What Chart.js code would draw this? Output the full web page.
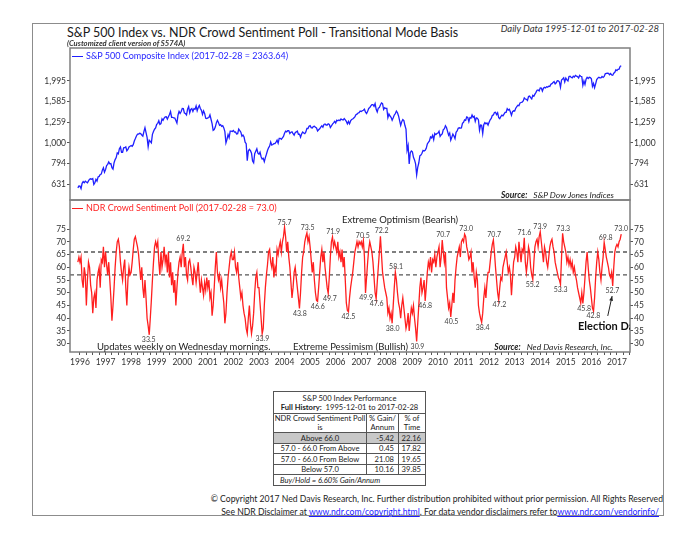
<!DOCTYPE html>
<html>
<head>
<meta charset="utf-8">
<script src="https://cdn.jsdelivr.net/npm/chart.js@4"></script>
<style>
  body { margin: 0; width: 696px; height: 538px; position: relative; background: #fff; overflow: hidden; font-family: Lato, sans-serif; color: #222; }
  .t { position: absolute; white-space: nowrap; z-index: 2; }
  canvas { position: absolute; left: 0; z-index: 1; }
  #frame { position: absolute; left: 32px; top: 23px; width: 630px; height: 491px; border: 1.5px solid #8c8c8c; }
  .key { display: inline-block; width: 11px; height: 1.4px; vertical-align: middle; margin-right: 3px; }
  #perf { position: absolute; left: 273px; top: 391px; width: 152px; table-layout: fixed; border-collapse: collapse; font-size: 7.6px; color: #222; z-index: 2; }
  #perf td { border: 1px solid #555; padding: 0; text-align: center; line-height: 8.6px; white-space: nowrap; overflow: hidden; }
  #perf td.num { text-align: right; padding-right: 4px; }
  #perf tr.band td { height: 9.6px; }
  #perf tr.hot td { background: #c8c8c8; }
  #perf td.ft { text-align: left; font-style: italic; padding-left: 6px; height: 9.4px; }
  .foot a { color: #1a1aff; }
</style>
</head>
<body>
<div id="frame"></div>

<div class="t" style="left:67px;top:25px;line-height:15px;font-size:12.5px;color:#1a1a1a">S&amp;P 500 Index vs. NDR Crowd Sentiment Poll - Transitional Mode Basis</div>
<div class="t" style="left:67px;top:38px;line-height:10px;font-size:7.7px;font-style:italic;font-weight:bold;color:#333">(Customized client version of S574A)</div>
<div class="t" style="right:37px;top:23px;line-height:12px;font-size:9.5px;font-style:italic;color:#333">Daily Data 1995-12-01 to 2017-02-28</div>

<div class="t" style="left:72px;top:50px;line-height:12px;font-size:9px;color:#1f1fff"><span class="key" style="background:#1f1fff"></span>S&amp;P 500 Composite Index (2017-02-28 = 2363.64)</div>
<div class="t" style="right:82px;top:189px;line-height:12px;font-size:8.5px;font-style:italic;color:#222"><b>Source:</b>&nbsp;&nbsp; S&amp;P Dow Jones Indices</div>

<div class="t" style="left:72px;top:202px;line-height:12px;font-size:9px;color:#ff1f1f"><span class="key" style="background:#ff1f1f"></span>NDR Crowd Sentiment Poll (2017-02-28 = 73.0)</div>
<div class="t" style="left:342px;top:214px;line-height:12px;font-size:9.5px">Extreme Optimism (Bearish)</div>
<div class="t" style="left:97px;top:341px;line-height:12px;font-size:9.5px">Updates weekly on Wednesday mornings.</div>
<div class="t" style="left:293px;top:341px;line-height:12px;font-size:9.5px">Extreme Pessimism (Bullish)</div>
<div class="t" style="right:83px;top:341px;line-height:12px;font-size:8.5px;font-style:italic"><b>Source:</b>&nbsp;&nbsp; Ned Davis Research, Inc.</div>
<div class="t" style="left:578px;top:318px;width:52px;overflow:hidden;line-height:15px;font-size:11px;font-weight:bold;color:#111">Election Day</div>

<table id="perf">
  <colgroup><col style="width:93px"><col style="width:32px"><col style="width:27px"></colgroup>
  <tr><td colspan="3" style="height:21px">S&amp;P 500 Index Performance<br><b>Full History:</b>&nbsp;&nbsp;1995-12-01 to 2017-02-28</td></tr>
  <tr><td style="height:18px">NDR Crowd Sentiment Poll<br>is</td><td>% Gain/<br>Annum</td><td>% of<br>Time</td></tr>
  <tbody id="bands"></tbody>
  <tr><td colspan="3" class="ft">Buy/Hold = 6.60% Gain/Annum</td></tr>
</table>

<div class="t foot" style="right:33px;top:493px;line-height:12px;font-size:8.65px;color:#222">&copy; Copyright 2017 Ned Davis Research, Inc. Further distribution prohibited without prior permission. All Rights Reserved</div>
<div class="t foot" style="right:37px;top:506px;line-height:12px;font-size:8.65px;color:#222">See NDR Disclaimer at <a href="#">www.ndr.com/copyright.html</a>. For data vendor disclaimers refer to<a href="#">www.ndr.com/vendorinfo/</a></div>

<canvas id="spxChart" width="696" height="170" style="top:40px"></canvas>
<canvas id="pollChart" width="696" height="190" style="top:190px"></canvas>

<script>
// samples are every half month, first one is 1995-12-01
var dataStart = 1995 + 11 / 12;
var xMin = 1995.61, xMax = 2017.51;

var yearTicks = [1996, 1997, 1998, 1999, 2000, 2001, 2002, 2003, 2004, 2005, 2006,
                 2007, 2008, 2009, 2010, 2011, 2012, 2013, 2014, 2015, 2016, 2017];

var spxTicks = [631, 794, 1000, 1259, 1585, 1995];
var spxTickLabels = ['631', '794', '1,000', '1,259', '1,585', '1,995'];
var spxMin = 528, spxMax = 2884;

var pollTicks = [30, 35, 40, 45, 50, 55, 60, 65, 70, 75];
var pollMin = 26.75, pollMax = 86.4;
var thresholds = [66, 57];

// S&P 500 composite, 1st and 16th of each month
var spx = [
  605, 617,
  616, 600, 636, 648, 640, 651, 645, 640, 654, 666, 669, 665, 671, 628, 640, 665, 652, 683, 687, 702, 705, 737, 757, 720,
  741, 776, 786, 808, 791, 793, 757, 745, 801, 829, 848, 893, 885, 937, 954, 900, 900, 945, 947, 956, 915, 928, 955, 963,
  970, 961, 980, 1021, 1049, 1080, 1102, 1102, 1112, 1108, 1091, 1078, 1134, 1184, 1121, 1063, 957, 1030, 1017, 1000, 1099, 1135, 1164, 1180,
  1229, 1243, 1280, 1228, 1238, 1307, 1286, 1319, 1335, 1337, 1302, 1339, 1373, 1418, 1329, 1330, 1320, 1318, 1283, 1247, 1363, 1420, 1389, 1418,
  1469, 1465, 1395, 1387, 1366, 1458, 1499, 1400, 1452, 1466, 1421, 1465, 1455, 1510, 1431, 1484, 1518, 1466, 1437, 1374, 1429, 1389, 1315, 1312,
  1320, 1326, 1366, 1301, 1240, 1150, 1160, 1192, 1250, 1285, 1256, 1215, 1224, 1202, 1211, 1181, 1134, 1000, 1041, 1097, 1060, 1139, 1140, 1134,
  1148, 1128, 1130, 1104, 1107, 1166, 1147, 1126, 1077, 1091, 1067, 1007, 990, 820, 912, 930, 916, 890, 815, 800, 886, 910, 936, 890,
  880, 901, 856, 834, 841, 810, 848, 880, 917, 946, 964, 1010, 975, 981, 990, 990, 1008, 1030, 996, 1050, 1051, 1040, 1058, 1075,
  1112, 1140, 1131, 1145, 1145, 1110, 1126, 1130, 1107, 1090, 1121, 1130, 1141, 1100, 1102, 1065, 1104, 1128, 1115, 1108, 1130, 1175, 1174, 1203,
  1212, 1185, 1181, 1200, 1204, 1190, 1181, 1142, 1157, 1170, 1192, 1210, 1191, 1228, 1234, 1220, 1220, 1237, 1229, 1186, 1207, 1233, 1250, 1270,
  1248, 1287, 1280, 1290, 1281, 1305, 1295, 1290, 1311, 1292, 1270, 1235, 1270, 1236, 1277, 1298, 1304, 1320, 1336, 1370, 1378, 1396, 1401, 1427,
  1418, 1431, 1438, 1456, 1407, 1387, 1421, 1468, 1482, 1512, 1531, 1533, 1503, 1549, 1455, 1411, 1474, 1484, 1527, 1560, 1549, 1451, 1481, 1468,
  1468, 1325, 1379, 1349, 1331, 1288, 1323, 1365, 1386, 1425, 1400, 1350, 1280, 1215, 1267, 1298, 1283, 1213, 1166, 920, 969, 790, 896, 913,
  903, 850, 826, 790, 700, 760, 798, 865, 873, 890, 919, 912, 919, 940, 987, 1004, 1021, 1068, 1057, 1087, 1036, 1110, 1096, 1110,
  1115, 1137, 1074, 1094, 1104, 1160, 1169, 1210, 1187, 1136, 1089, 1115, 1031, 1065, 1102, 1080, 1049, 1125, 1141, 1176, 1183, 1178, 1181, 1243,
  1258, 1293, 1286, 1336, 1327, 1266, 1326, 1319, 1364, 1330, 1345, 1271, 1321, 1316, 1292, 1150, 1219, 1216, 1110, 1224, 1253, 1237, 1247, 1219,
  1258, 1293, 1312, 1358, 1366, 1404, 1408, 1370, 1398, 1324, 1310, 1342, 1362, 1353, 1379, 1406, 1407, 1465, 1441, 1454, 1412, 1360, 1416, 1430,
  1426, 1472, 1498, 1520, 1515, 1561, 1569, 1575, 1598, 1651, 1631, 1626, 1606, 1677, 1686, 1655, 1633, 1698, 1682, 1722, 1757, 1798, 1806, 1786,
  1848, 1845, 1783, 1840, 1860, 1846, 1872, 1862, 1884, 1878, 1924, 1937, 1960, 1981, 1931, 1955, 2003, 1998, 1972, 1862, 2018, 2039, 2068, 1973,
  2059, 2019, 1995, 2096, 2105, 2081, 2068, 2106, 2086, 2122, 2107, 2096, 2063, 2124, 2104, 2092, 1900, 1996, 1920, 2033, 2079, 2053, 2080, 2073,
  2044, 1880, 1940, 1850, 1932, 2027, 2060, 2081, 2065, 2066, 2097, 2077, 2099, 2162, 2174, 2178, 2171, 2139, 2168, 2133, 2126, 2177, 2199, 2262,
  2239, 2275, 2279, 2349, 2364
];

// NDR crowd sentiment poll, same dates
var sentiment = [
  62, 64,
  62, 64, 55, 52, 60, 57, 45, 55, 62, 60, 53, 50, 42, 48, 50, 44, 55, 58, 60, 52, 63, 62, 68, 60,
  66, 61, 57, 62, 55, 48, 39, 45, 52, 60, 66, 70, 71, 68, 62, 58, 55, 60, 63, 52, 45, 55, 60, 57,
  58, 62, 67, 71, 72, 70, 68, 65, 60, 55, 60, 52, 48, 55, 48, 40, 37, 33.5, 40, 47, 55, 62, 68, 70,
  68, 70, 62, 57, 66, 60, 63, 68, 62, 65, 58, 66, 56, 62, 53, 58, 50, 55, 45, 52, 58, 62, 64, 60,
  66, 69.2, 60, 64, 57, 55, 62, 63, 60, 56, 53, 60, 58, 54, 58, 62, 55, 50, 55, 52, 49, 54, 51, 56,
  52, 55, 48, 50, 41, 45, 52, 60, 66, 58, 55, 57, 52, 55, 50, 46, 38, 42, 50, 56, 60, 64, 66, 63,
  63, 66, 60, 58, 62, 56, 52, 48, 50, 45, 42, 40, 36, 34, 40, 45, 38, 34, 37, 42, 50, 56, 58, 52,
  52, 46, 40, 33.9, 36, 45, 52, 57, 61, 66, 67, 62, 60, 64, 56, 60, 58, 67, 65, 68, 70, 66, 70, 72,
  75.7, 72, 66, 70, 64, 60, 54, 48, 52, 58, 60, 56, 52, 48, 43.8, 50, 58, 64, 66, 70, 72, 73.5, 70, 72,
  68, 63, 58, 62, 55, 50, 47, 46.6, 52, 58, 64, 67, 62, 66, 60, 56, 52, 49.7, 56, 64, 70, 71.9, 68, 70,
  68, 66, 70, 64, 66, 62, 67, 60, 64, 55, 46, 43, 42.5, 48, 52, 55, 58, 62, 66, 68, 70, 68, 70, 69,
  70, 68, 70.5, 64, 49.9, 56, 62, 67, 70, 68, 66, 62, 56, 50, 47.6, 54, 60, 66, 72.2, 65, 58, 55, 52, 50,
  48, 42, 44, 40, 42, 38, 45, 52, 58.1, 55, 50, 46, 44, 40, 45, 48, 44, 40, 36, 38, 42, 35, 40, 44,
  42, 45, 40, 36, 30.9, 38, 45, 52, 56, 50, 52, 55, 46.8, 52, 58, 62, 60, 64, 58, 63, 62, 65, 60, 64,
  66, 68, 60, 64, 70.7, 66, 62, 66, 52, 48, 44, 46, 40.5, 45, 50, 46, 55, 60, 64, 66, 68, 64, 70, 71,
  70, 73, 72, 68, 66, 63, 64, 66, 58, 62, 56, 52, 58, 55, 45, 42, 40, 38.4, 42, 48, 52, 48, 54, 58,
  58, 62, 66, 69, 70.7, 66, 60, 55, 50, 47.2, 52, 56, 55, 60, 62, 64, 66, 62, 58, 60, 57, 49, 56, 62,
  64, 68, 66, 62, 70, 66, 62, 67, 66, 71.6, 62, 58, 62, 68, 66, 60, 57, 55.2, 62, 68, 70, 71, 68, 72,
  73.9, 70, 66, 62, 68, 66, 62, 60, 64, 68, 70, 71, 68, 66, 62, 60, 58, 56, 55, 53.3, 64, 73.3, 70, 68,
  66, 62, 64, 61, 63, 60, 62, 58, 60, 57, 55, 52, 50, 48, 46, 50, 45.8, 50, 56, 62, 66, 60, 55, 52,
  48, 44, 42.8, 48, 56, 62, 66, 63, 58, 55, 60, 64, 69.8, 67, 64, 62, 60, 57, 56, 58, 52.7, 60, 66, 68,
  69, 68, 70, 71, 73
];

// value labels on the poll line
var noteYears  = [2000.04, 2004.0, 2004.9, 2005.9, 2007.06, 2007.8, 2008.36, 2010.2, 2011.1, 2012.2, 2013.38, 2014.0, 2014.9, 2016.56, 2017.16,
                  1998.69, 2003.13, 2004.6, 2005.3, 2005.77, 2006.5, 2007.19, 2007.6, 2008.23, 2009.2, 2009.5, 2010.53, 2011.75, 2012.4, 2013.7, 2014.8, 2015.72, 2016.08, 2016.82];
var noteValues = [69.2, 75.7, 73.5, 71.9, 70.5, 72.2, 58.1, 70.7, 73.0, 70.7, 71.6, 73.9, 73.3, 69.8, 73.0,
                  33.5, 33.9, 43.8, 46.6, 49.7, 42.5, 49.9, 47.6, 38.0, 30.9, 46.8, 40.5, 38.4, 47.2, 55.2, 53.3, 45.8, 42.8, 52.7];
var noteAbove  = [1, 1, 1, 1, 1, 1, 1, 1, 1, 1, 1, 1, 1, 1, 1,
                  0, 0, 0, 0, 0, 0, 0, 0, 0, 0, 0, 0, 0, 0, 0, 0, 0, 0, 0];
var arrowFrom = [2016.64, 40.9], arrowTo = [2016.81, 48.7];

// performance table
var tableBands = ['Above 66.0', '57.0 - 66.0 From Above', '57.0 - 66.0 From Below', 'Below 57.0'];
var tableGain = ['-5.42', '0.45', '21.08', '10.16'];
var tableTime = ['22.16', '17.82', '19.65', '39.85'];

var rows = '';
for (var i = 0; i < tableBands.length; i++) {
    rows += '<tr class="band' + (i == 0 ? ' hot' : '') + '"><td>' + tableBands[i] + '</td><td class="num">' +
            tableGain[i] + '</td><td class="num">' + tableTime[i] + '</td></tr>';
}
document.getElementById('bands').innerHTML = rows;

Chart.defaults.font.family = 'Lato';
Chart.defaults.color = '#333';

function toPoints(values) {
    return values.map(function(v, i) { return { x: dataStart + i / 24, y: v }; });
}

// gray box round each plot area
var boxPlugin = {
    id: 'box',
    afterDraw: function(chart) {
        var a = chart.chartArea, ctx = chart.ctx;
        ctx.save();
        ctx.strokeStyle = '#7f7f7f';
        ctx.lineWidth = 1.5;
        ctx.strokeRect(a.left, a.top, a.right - a.left, a.bottom - a.top);
        ctx.restore();
    }
};

function yAxis(type, pos, min, max, ticks, labels, width) {
    return {
        type: type, position: pos, min: min, max: max,
        afterBuildTicks: function(s) { s.ticks = ticks.map(function(v) { return { value: v }; }); },
        afterFit: function(s) { s.width = width; },
        ticks: {
            font: { size: 8.5 }, color: '#333', padding: 1,
            callback: function(v) { return labels ? labels[ticks.indexOf(v)] : String(v); }
        },
        grid: { drawOnChartArea: false, tickLength: 3, color: '#555' },
        border: { display: false }
    };
}

new Chart(document.getElementById('spxChart'), {
    type: 'line',
    data: {
        datasets: [{
            data: toPoints(spx),
            borderColor: '#1f1fff',
            borderWidth: 1.3,
            pointRadius: 0,
            tension: 0
        }]
    },
    options: {
        responsive: false,
        animation: false,
        layout: { padding: { top: 8, bottom: 10, left: 0, right: 0 } },
        plugins: { legend: { display: false }, tooltip: { enabled: false } },
        scales: {
            x: { type: 'linear', min: xMin, max: xMax, display: false },
            y: yAxis('logarithmic', 'left', spxMin, spxMax, spxTicks, spxTickLabels, 70),
            y2: yAxis('logarithmic', 'right', spxMin, spxMax, spxTicks, spxTickLabels, 66)
        }
    },
    plugins: [boxPlugin]
});

// text labels at the turning points plus the election-day arrow
var notePlugin = {
    id: 'notes',
    afterDatasetsDraw: function(chart) {
        var ctx = chart.ctx, x = chart.scales.x, y = chart.scales.y;
        ctx.save();
        ctx.font = '7px Lato';
        ctx.fillStyle = '#444';
        ctx.textAlign = 'center';
        for (var i = 0; i < noteYears.length; i++) {
            var px = x.getPixelForValue(noteYears[i]);
            var py = y.getPixelForValue(noteValues[i]);
            if (noteAbove[i]) {
                ctx.textBaseline = 'bottom';
                ctx.fillText(noteValues[i].toFixed(1), px, py - 1.5);
            } else {
                ctx.textBaseline = 'top';
                ctx.fillText(noteValues[i].toFixed(1), px, py + 1.5);
            }
        }
        var x1 = x.getPixelForValue(arrowFrom[0]), y1 = y.getPixelForValue(arrowFrom[1]);
        var x2 = x.getPixelForValue(arrowTo[0]), y2 = y.getPixelForValue(arrowTo[1]);
        var ang = Math.atan2(y2 - y1, x2 - x1);
        ctx.strokeStyle = '#222';
        ctx.fillStyle = '#222';
        ctx.lineWidth = 1;
        ctx.beginPath();
        ctx.moveTo(x1, y1);
        ctx.lineTo(x2, y2);
        ctx.stroke();
        ctx.beginPath();
        ctx.moveTo(x2, y2);
        ctx.lineTo(x2 - 5 * Math.cos(ang - 0.4), y2 - 5 * Math.sin(ang - 0.4));
        ctx.lineTo(x2 - 5 * Math.cos(ang + 0.4), y2 - 5 * Math.sin(ang + 0.4));
        ctx.closePath();
        ctx.fill();
        ctx.restore();
    }
};

var quarterTicks = [];
yearTicks.forEach(function(yr) {
    [0, 0.25, 0.5, 0.75].forEach(function(q) {
        if (yr + q <= xMax) quarterTicks.push(yr + q);
    });
});

var pollSets = [{
    data: toPoints(sentiment),
    borderColor: '#ff1f1f',
    borderWidth: 1.3,
    pointRadius: 0,
    tension: 0
}];
thresholds.forEach(function(t) {
    pollSets.push({
        data: [{ x: xMin, y: t }, { x: xMax, y: t }],
        borderColor: '#555',
        borderWidth: 1.4,
        borderDash: [4, 3],
        pointRadius: 0
    });
});

new Chart(document.getElementById('pollChart'), {
    type: 'line',
    data: { datasets: pollSets },
    options: {
        responsive: false,
        animation: false,
        layout: { padding: { top: 10, bottom: 0, left: 0, right: 0 } },
        plugins: { legend: { display: false }, tooltip: { enabled: false } },
        scales: {
            x: {
                type: 'linear', min: xMin, max: xMax,
                afterBuildTicks: function(s) { s.ticks = quarterTicks.map(function(v) { return { value: v }; }); },
                afterFit: function(s) { s.height = 28; },
                ticks: {
                    autoSkip: false, maxRotation: 0, minRotation: 0, padding: 2,
                    font: { size: 8.5 }, color: '#333',
                    callback: function(v) { return yearTicks.indexOf(v) >= 0 ? String(v) : ''; }
                },
                grid: { drawOnChartArea: false, tickLength: 3, color: '#555' },
                border: { display: false }
            },
            y: yAxis('linear', 'left', pollMin, pollMax, pollTicks, null, 70),
            y2: yAxis('linear', 'right', pollMin, pollMax, pollTicks, null, 66)
        }
    },
    plugins: [boxPlugin, notePlugin]
});
</script>
</body>
</html>
